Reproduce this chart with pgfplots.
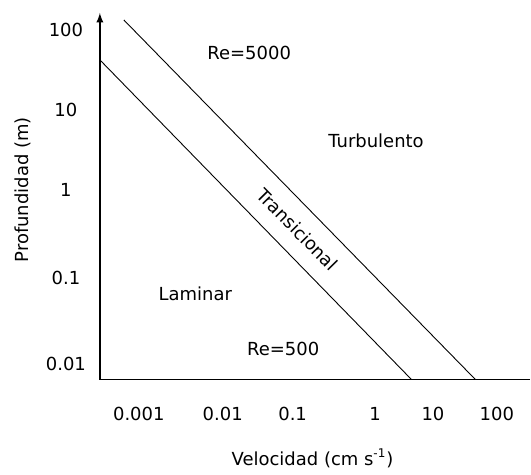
\documentclass[border=0pt]{standalone}
\usepackage{pgfplots}
\pgfplotsset{compat=1.18}
\usepackage{fontspec}
\setmainfont{DejaVu Sans}
\begin{document}
\begin{tikzpicture}
\begin{axis}[
  x=0.5pt, y=0.5pt,
  xmin=100, xmax=531, ymin=95, ymax=462,
  axis lines=left,
  x axis line style={-, line width=0.65pt},
  y axis line style={-latex, line width=0.65pt},
  major tick length=0pt,
  clip=false,
  font=\fontsize{9}{11}\selectfont,
  /pgf/number format/assume math mode=true,
  xtick={139,223,293,375.5,433.5,497.5},
  xticklabels={0.001,0.01,0.1,1,10,100},
  ytick={445,365,285,197,111},
  yticklabels={100,10,1,0.1,0.01},
  xticklabel style={anchor=center, yshift=-17pt},
  yticklabel style={anchor=center, xshift=-17pt},
  xlabel={Velocidad (cm s\textsuperscript{-1})},
  ylabel={Profundidad (m)},
  xlabel style={at={(rel axis cs:0.494,-0.215)}, anchor=center},
  ylabel style={at={(rel axis cs:-0.1787,0.5177)}, anchor=center},
]
\path (axis cs:0,0) rectangle (axis cs:531,475);
% Re=5000 boundary
\addplot[black, line width=0.45pt] coordinates {(124,455) (476,95)};
% Re=500 boundary
\addplot[black, line width=0.45pt] coordinates {(101,414) (412,95)};
\node at (axis cs:249.5,422) {Re=5000};
\node at (axis cs:376.5,334) {Turbulento};
\node[rotate=-45.5] at (axis cs:298,245) {Transicional};
\node at (axis cs:195.5,181) {Laminar};
\node at (axis cs:283.5,126) {Re=500};
\end{axis}
\end{tikzpicture}
\end{document}
